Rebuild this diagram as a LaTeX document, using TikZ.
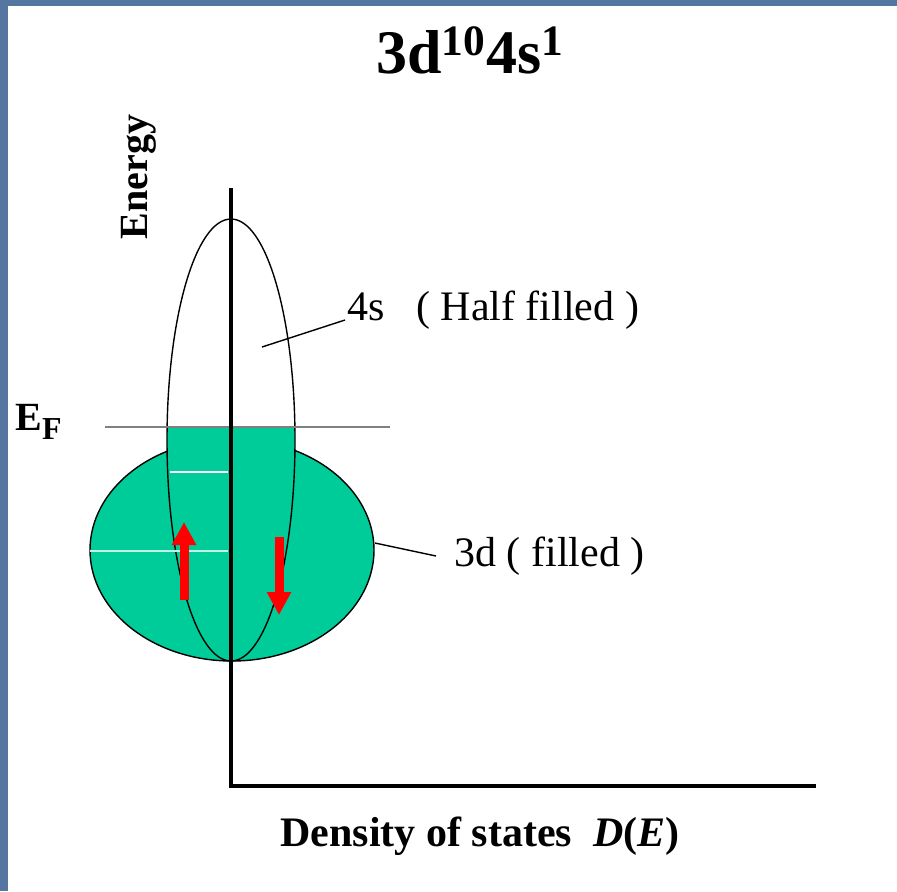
\documentclass[tikz,border=0pt]{standalone}
\usepackage{fontspec}
\setmainfont{Liberation Serif}
\usetikzlibrary{arrows.meta, positioning, calc}
\definecolor{dosfill}{RGB}{0,204,153}
\definecolor{slideblue}{RGB}{84,118,160}
\definecolor{spinred}{RGB}{255,0,0}

\begin{document}
\begin{tikzpicture}[x=0.5pt, y=-0.5pt,
    axis/.style={line width=2pt, black},
    band/.style={line width=0.7pt, black},
    lbl/.style={font=\fontsize{21}{24}\selectfont, inner sep=1pt},
    blbl/.style={font=\fontsize{20}{24}\selectfont\bfseries, inner sep=0pt},
    spin/.style={-{Triangle[width=11.5pt, length=11.5pt]}, line width=4.5pt, spinred},
    leader/.style={line width=0.7pt, black}]
  \useasboundingbox (0,0) rectangle (897,891);
  \fill[slideblue] (0,0) rectangle (8,891);
  \fill[slideblue] (0,0) rectangle (897,6);
  % axes
  \coordinate (O) at (231,786);
  \coordinate (Etop) at (231,188);
  \coordinate (Dend) at (816,786);
  % 3d band
  \filldraw[band, fill=dosfill] (232,550) ellipse [x radius=142, y radius=111];
  % 4s band, filled up to E_F
  \begin{scope}
    \clip (0,427) rectangle (897,891);
    \fill[dosfill] (231,440) ellipse [x radius=64, y radius=221];
  \end{scope}
  \draw[band] (231,440) ellipse [x radius=64, y radius=221];
  \draw[white, line width=1pt] (170,472) -- (228,472);
  \draw[white!75!dosfill, line width=0.6pt] (90,551) -- (228,551);
  % Fermi level
  \draw[line width=0.9pt, black!50] (105,427) -- (390,427);
  \draw[axis] (Etop) -- (O) -- (Dend);
  % spins
  \coordinate (up0) at (184,600);
  \coordinate (up1) at (184,522);
  \coordinate (dn0) at (279,537);
  \coordinate (dn1) at (279,615);
  \draw[spin] (up0) -- (up1);
  \draw[spin] (dn0) -- (dn1);
  % labels
  \node[blbl, font=\fontsize{31}{36}\selectfont\bfseries] (title) at (470,50)
    {3d\textsuperscript{10}4s\textsuperscript{1}};
  \node[blbl, rotate=90] (energy) at (139,177) {Energy};
  \node[blbl, anchor=base west] (ef) at (15,430)
    {E\raisebox{-4.5pt}{\fontsize{16}{18}\selectfont F}};
  \node[blbl, font=\fontsize{21}{24}\selectfont\bfseries] (dos) at (480,836)
    {Density of states\ \ \textit{D}(\textit{E})};
  \node[lbl, anchor=base west] (s4lbl) at (345,320)
    {4s\hspace{0.75em}( Half filled )};
  \node[lbl, anchor=west, inner xsep=9pt] (d3lbl) at (436,556) {3d ( filled )};
  \coordinate (s4in) at (262,347);
  \coordinate (d3edge) at (375,543);
  \draw[leader] (s4in) -- (s4lbl.base west);
  \draw[leader] (d3edge) -- (d3lbl.west);
\end{tikzpicture}
\end{document}
